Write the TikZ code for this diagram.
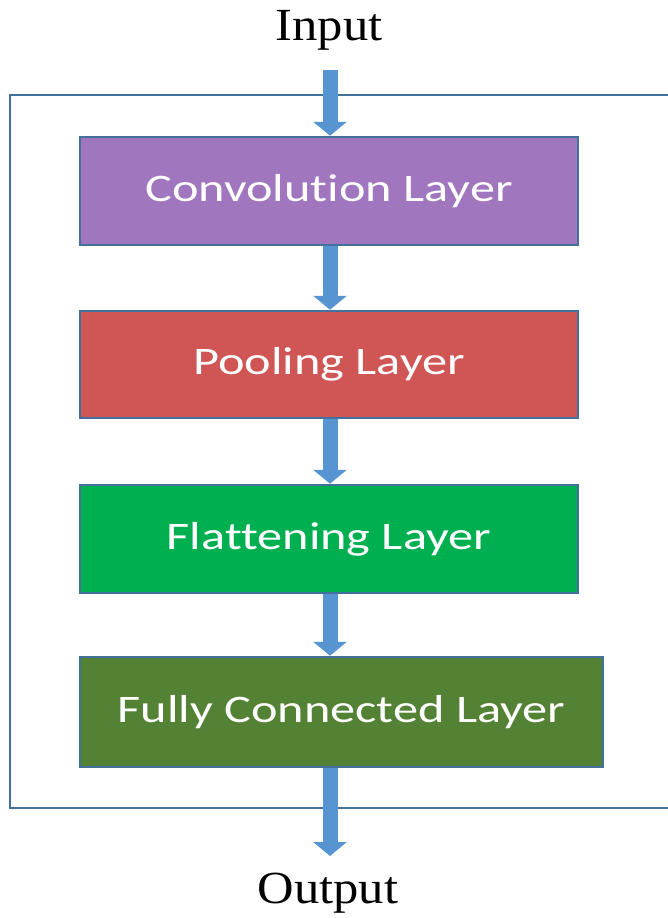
\documentclass[tikz,border=0pt]{standalone}
\usepackage{fontspec}
\usepackage{graphicx}
\setmainfont{Liberation Serif}
\newfontfamily\boxfont[Ligatures=NoCommon]{Carlito}
\usetikzlibrary{arrows.meta}
\definecolor{convc}{RGB}{160,118,190}
\definecolor{poolc}{RGB}{208,86,86}
\definecolor{flatc}{RGB}{0,176,80}
\definecolor{fcc}{RGB}{84,130,53}
\definecolor{edgec}{RGB}{65,113,156}
\definecolor{arrowc}{RGB}{86,148,210}
\newcommand{\widetext}[1]{\raisebox{-3pt}{\scalebox{1.29}[1]{#1}}}
\newcommand{\widelabel}[1]{\scalebox{1.1}[1]{#1}}
\tikzset{
  layerbox/.style={draw=edgec, line width=2.5pt, minimum height=108pt, text=white,
    font=\boxfont\fontsize{39}{45}\selectfont, inner sep=0pt},
  flowarrow/.style={draw=arrowc, line width=15pt,
    -{Triangle[width=33pt,length=14pt]}, shorten >=0pt},
  labeltext/.style={font=\fontsize{46}{54}\selectfont, inner sep=0pt}
}
\begin{document}
\begin{tikzpicture}[x=1pt,y=-1pt]
\useasboundingbox (0,0) rectangle (668,918);
\draw[edgec, line width=2.5pt] (680,95) -- (10,95) -- (10,808) -- (680,808);
\node[labeltext] (in) at (329,30) {\widelabel{Input}};
\node[labeltext] (out) at (328,893) {\widelabel{Output}};
\node[layerbox, fill=convc, minimum width=498pt] (conv) at (329,191) {\widetext{Convolution Layer}};
\node[layerbox, fill=poolc, minimum width=498pt, minimum height=107pt] (pool) at (329,364.5) {\widetext{Pooling Layer}};
\node[layerbox, fill=flatc, minimum width=498pt] (flat) at (329,539) {\widetext{Flattening Layer}};
\node[layerbox, fill=fcc, minimum width=523pt, minimum height=110pt] (fc) at (341.5,712) {\widetext{Fully Connected Layer}};
\coordinate (instart) at (330,70);
\coordinate (outend) at (330,856);
\draw[flowarrow] (instart) -- (instart |- conv.north);
\draw[flowarrow] (conv.south -| instart) -- (pool.north -| instart);
\draw[flowarrow] (pool.south -| instart) -- (flat.north -| instart);
\draw[flowarrow] (flat.south -| instart) -- (fc.north -| instart);
\draw[flowarrow] (fc.south -| instart) -- (outend);
\end{tikzpicture}
\end{document}
